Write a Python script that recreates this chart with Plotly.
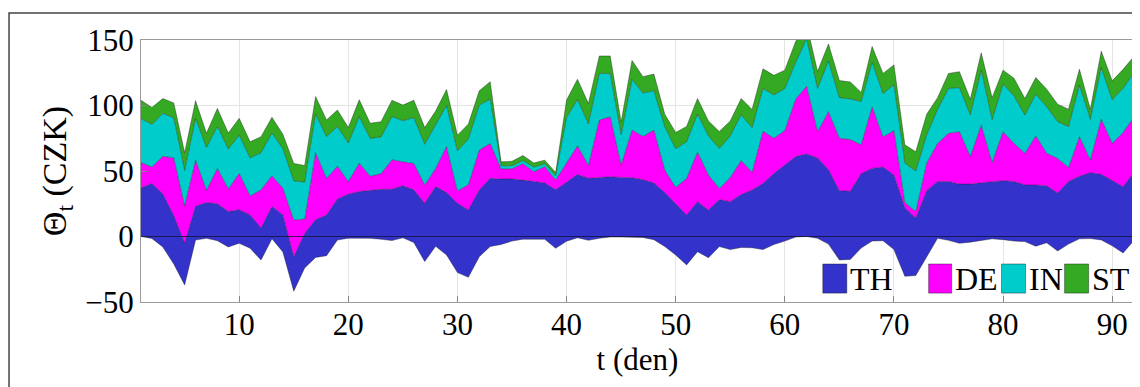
import plotly.graph_objects as go

days = list(range(1, 93))

# boundary levels of the stacked areas (CZK)
th_low = [0, -1.5, -8, -21, -37, -2.7, -1.4, -3.2, -8, -5.2,
          -9, -18, -1.7, -11.8, -41.8, -24, -16, -14.7, -2.7, -1.3,
          -1.3, -1.4, -2.1, -3.1, -1, -4.6, -19.1, -7.5, -14.1, -27.5,
          -31.2, -15.4, -7.7, -6.1, -3.5, -2.1, -2.1, -2.1, -9, -3.6,
          -1, -2.9, -1.4, -0.4, -0.4, -0.4, -0.8, -2.4, -7.7, -14.1,
          -21.7, -11.6, -16.2, -7.7, -10, -8.4, -8.6, -10, -6.2, -3.5,
          -0.4, 0, -1.4, -5.8, -17.9, -17.5, -8.8, -3.5, -3.2, -10,
          -30.4, -29.8, -15.4, -1.4, -2.9, -5.2, -4.3, -3.2, -1.8, -2.4,
          -3.5, -3.9, -7.4, -4.8, -11, -5.8, -1.8, -1.6, -2.6, -7.1,
          -12.6, -3]

th_top = [37, 40.5, 32.5, 16, -5, 23, 26, 25, 19, 20.4,
          16.5, 6.4, 22.9, 16.5, -15.4, 2.3, 12.8, 16.4, 28.6, 32.3,
          34.3, 35.2, 36, 36.1, 38.7, 35.6, 25.3, 38.1, 33.5, 25.3,
          20.3, 35.5, 44.4, 43.9, 43.9, 43.1, 41.8, 40.8, 35.7, 41.5,
          47.3, 44.4, 44.9, 45.6, 45.1, 44.9, 43.4, 40.8, 33.5, 25.3,
          16.5, 26.6, 20.2, 28.2, 26.6, 32, 35.5, 40.5, 48, 54.5,
          61, 63, 60, 51, 35, 34.5, 48, 52, 53, 47,
          22, 14, 35, 42, 42, 40, 40, 41, 42, 42.6,
          42, 39.4, 39.3, 38.7, 33.2, 42, 46, 48.7, 47.5, 42.5,
          38, 49]

de_top = [56.5, 53, 61.3, 60, 23.5, 58.3, 35.3, 52, 36.3, 48.2,
          31, 35.6, 46.4, 36.8, 12.6, 13.3, 64, 44.3, 53.7, 41.9,
          56, 46, 48, 58.6, 57, 55.8, 39.3, 52, 68.5, 34.8,
          39.5, 66, 71, 51.5, 51.7, 55.6, 49.5, 53.3, 43.1, 55.8,
          69.2, 54.2, 88.9, 91.4, 54.5, 81.3, 76.4, 81.3, 50.7, 37.4,
          44.4, 64.4, 46.9, 36.7, 45, 58, 49, 80.5, 75, 81,
          105, 114.6, 80, 95.3, 75, 74, 70, 99, 76, 81,
          26, 19, 56, 71, 78.8, 80, 61, 85, 56.5, 80,
          71.1, 63.5, 76.8, 63.5, 59.6, 52.7, 76.1, 58.4, 89.5, 71.1,
          79.4, 91.4]

in_top = [90, 85.5, 94, 90.5, 50.5, 90, 68, 84, 66.8, 77.3,
          60, 64, 79, 67, 42.5, 41.5, 93.5, 76.2, 83.9, 71.4,
          91.5, 74.9, 76, 91.6, 88.4, 90.8, 70.4, 85.1, 100, 65.4,
          74.5, 100.3, 104.8, 54, 54, 58, 52.9, 55.5, 46.3, 90.8,
          104.6, 86, 124.5, 124.5, 77.7, 119.9, 109.5, 111.4, 83.8, 66.9,
          72.4, 93.4, 76.8, 67.2, 76.8, 93, 83, 113, 108, 113,
          133, 151, 113, 134, 106, 105, 103, 133, 109, 116,
          56, 50, 77.5, 97, 113, 113.7, 92.8, 127, 89.2, 116.3,
          107.4, 92.7, 108.5, 99.1, 87.6, 83.8, 115.6, 89.5, 129, 104.4,
          113.1, 125.2]

st_top = [104, 98.5, 105.3, 102, 64, 103.7, 78.8, 97.8, 79, 90.2,
          72.3, 76.2, 91, 78, 55.8, 54.2, 106.8, 89, 96.5, 83.2,
          104.4, 86.5, 87.6, 104, 100.3, 104, 83.2, 95.8, 112.2, 77.3,
          85.9, 111.2, 118.1, 57, 57.4, 61.8, 56.1, 58.3, 48.8, 104.2,
          120, 101.6, 137.8, 137.8, 87.5, 134.4, 122, 124, 93.4, 79.4,
          84, 105.3, 88.2, 80.1, 88.2, 105.3, 97, 128, 123, 127,
          149, 162, 126, 147, 119, 118, 110, 145, 124.5, 131,
          70, 64.7, 93.3, 106, 124.5, 125.8, 104.8, 140.2, 106, 127,
          120.8, 105.4, 121.3, 112.5, 101, 97.2, 127.7, 97.1, 141.5, 118.8,
          127.6, 137.5]

series_names = ["TH", "DE", "IN", "ST"]
series_colors = ["rgb(51,51,204)", "rgb(255,0,255)", "rgb(0,204,204)", "rgb(51,170,34)"]

x_ticks = [10, 20, 30, 40, 50, 60, 70, 80, 90]
y_ticks = [-50, 0, 50, 100, 150]

FONT = "Liberation Serif, Times New Roman, serif"
edge = dict(color="rgba(20,20,20,0.55)", width=0.7)

fig = go.Figure()
fig.add_trace(go.Scatter(x=days, y=th_low, mode="lines", line=edge,
                         showlegend=False, hoverinfo="skip"))
for name, col, lev in zip(series_names, series_colors, [th_top, de_top, in_top, st_top]):
    fig.add_trace(go.Scatter(x=days, y=lev, mode="lines", name=name, line=edge,
                             fill="tonexty", fillcolor=col, showlegend=False))

# zero baseline
fig.add_shape(type="line", xref="paper", yref="y", x0=0, x1=1, y0=0, y1=0,
              line=dict(color="rgba(20,20,60,0.85)", width=1), layer="above")

# outer frame: only its top and left edges fall inside the picture
fig.add_shape(type="path", xref="paper", yref="paper",
              path="M -0.1329,-0.6 L -0.1329,1.103 L 1.2,1.103",
              line=dict(color="#444444", width=1.5), layer="above")

# legend (drawn manually to match square swatches)
leg_sq = [(0.6866, 0.7108), (0.7932, 0.8164), (0.8666, 0.8908), (0.9301, 0.9543)]
for (a, b), name, col in zip(leg_sq, series_names, series_colors):
    fig.add_shape(type="rect", xref="paper", yref="paper", x0=a, x1=b, y0=0.034, y1=0.145,
                  fillcolor=col, line=dict(color="rgba(20,20,20,0.6)", width=0.7), layer="above")
    fig.add_annotation(xref="paper", yref="paper", x=b + 0.0015, y=0.089, text=name,
                       showarrow=False, xanchor="left", yanchor="middle",
                       font=dict(family=FONT, size=32, color="black"))

# the page adds an 8px body margin, so the figure is 8px smaller than the window
fig.update_layout(
    width=1132, height=379,
    margin=dict(l=133, r=6, t=32, b=85),
    paper_bgcolor="white", plot_bgcolor="white",
    font=dict(family=FONT, size=31, color="black"),
    showlegend=False,
)
fig.update_xaxes(range=[1, 92], tickvals=x_ticks, ticks="inside", ticklen=6,
                 tickcolor="#888888", showline=True, linecolor="#9a9a9a", mirror=True,
                 showgrid=True, gridcolor="#e4e4e4", zeroline=False,
                 ticklabelstandoff=-5,
                 title=dict(text="t (den)", standoff=0, font=dict(size=31)))
fig.update_yaxes(range=[-50, 150], tickvals=y_ticks, ticks="inside", ticklen=6,
                 tickcolor="#888888", showline=True, linecolor="#9a9a9a", mirror=True,
                 showgrid=True, gridcolor="#e4e4e4", zeroline=False,
                 title=dict(text="Θ<sub>t</sub> (CZK)", standoff=8, font=dict(size=34)))

fig.write_html("out.html")
